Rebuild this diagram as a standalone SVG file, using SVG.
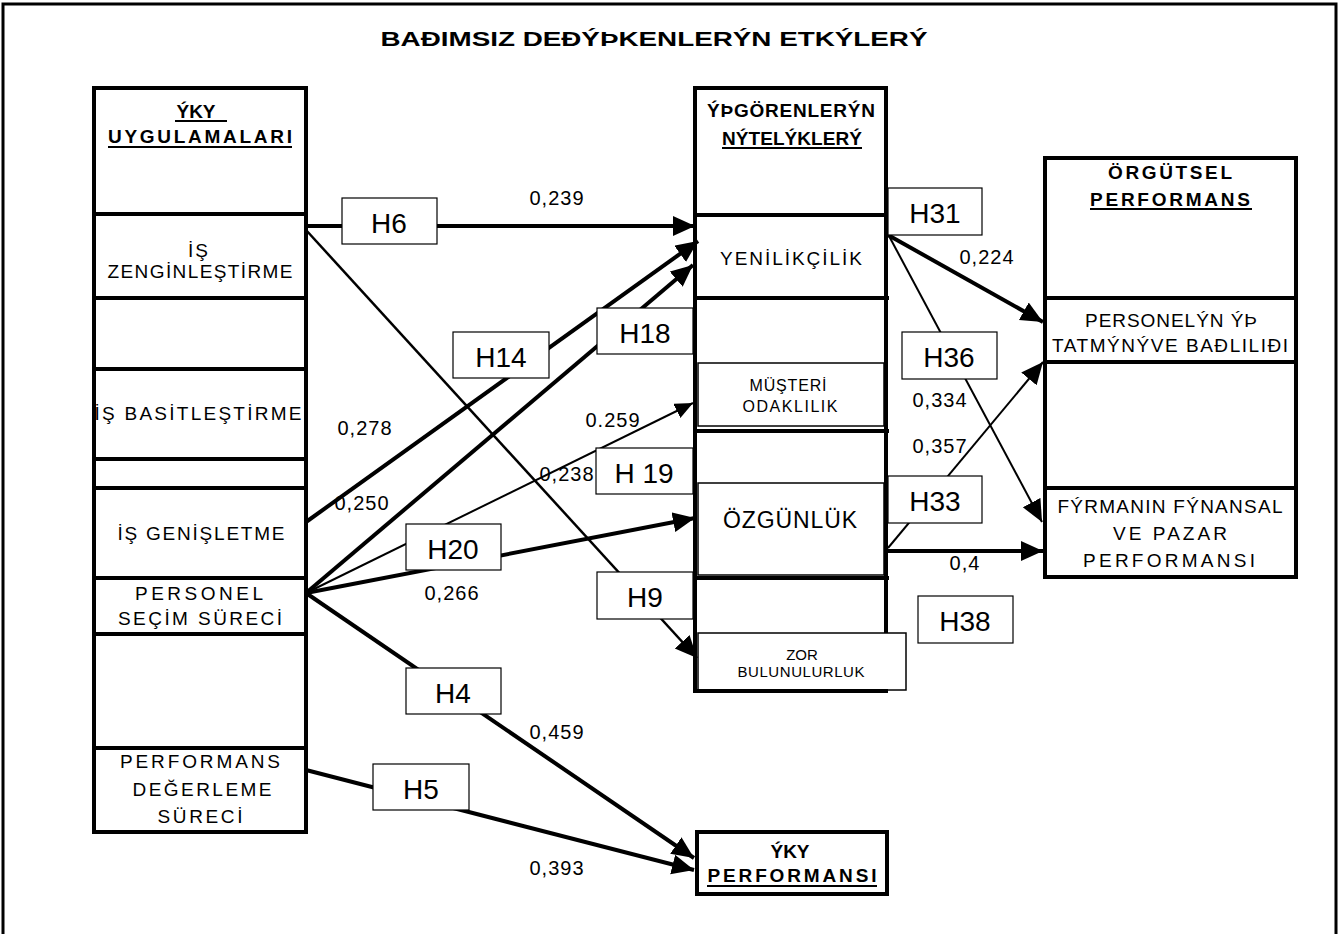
<svg xmlns="http://www.w3.org/2000/svg" width="1341" height="934" viewBox="0 0 1341 934">
<style>
text{font-family:"Liberation Sans",Arial,sans-serif;fill:#000}
.hd{font-size:19px;font-weight:bold;text-anchor:middle}
.lb{font-size:19px;text-anchor:middle}
.sm{font-size:16px;text-anchor:middle}
.num{font-size:20px;letter-spacing:1px;text-anchor:middle}
.hl{font-size:28px;text-anchor:middle}
.thick{fill:none;stroke:#000;stroke-width:4}
.thin{fill:#fff;stroke:#000;stroke-width:1.5}
.hbox{fill:#fff;stroke:#000;stroke-width:1.2}
.ul{stroke:#000;stroke-width:1.8}
.c4{stroke:#000;stroke-width:4;fill:none;marker-end:url(#ab)}
.c2{stroke:#000;stroke-width:2;fill:none;marker-end:url(#as)}
</style>
<defs>
<marker id="ab" markerUnits="userSpaceOnUse" markerWidth="24" markerHeight="22" refX="22" refY="10" orient="auto"><path d="M0,0 L22,10 L0,20 z" fill="#000"/></marker>
<marker id="as" markerUnits="userSpaceOnUse" markerWidth="20" markerHeight="18" refX="18" refY="8" orient="auto"><path d="M0,0 L18,8 L0,16 z" fill="#000"/></marker>
</defs>
<rect width="1341" height="934" fill="#fff"/>
<g id="frame"><path d="M3,934 V4 H1336 V934" fill="none" stroke="#000" stroke-width="3"/></g>
<g id="title"><text x="654" y="46" style="font-size:20px;font-weight:bold;text-anchor:middle" textLength="547" lengthAdjust="spacingAndGlyphs">BAĐIMSIZ DEĐÝÞKENLERÝN ETKÝLERÝ</text></g>

<g id="iky-uygulamalari">
<rect class="thick" x="94" y="88" width="212" height="744"/>
<path class="thick" d="M94,214 H306 M94,298 H306 M94,369 H306 M94,459 H306 M94,488 H306 M94,578 H306 M94,634 H306 M94,748 H306"/>
<text class="hd" x="196" y="118">ÝKY</text>
<line class="ul" x1="175" y1="121" x2="227" y2="121"/>
<text class="hd" x="200" y="143" textLength="184" lengthAdjust="spacing">UYGULAMALARI</text>
<line class="ul" x1="108" y1="147" x2="292" y2="147"/>
</g>
<g id="is-zenginlestirme"><text class="lb" x="199" y="257" style="letter-spacing:2px">İŞ</text><text class="lb" x="200" y="278" textLength="185" lengthAdjust="spacing">ZENGİNLEŞTİRME</text></g>
<g id="is-basitlestirme"><text class="lb" x="198" y="420" textLength="207" lengthAdjust="spacing">İŞ BASİTLEŞTİRME</text></g>
<g id="is-genisletme"><text class="lb" x="201" y="540" textLength="167" lengthAdjust="spacing">İŞ GENİŞLETME</text></g>
<g id="personel-secim"><text class="lb" x="199" y="600" textLength="128" lengthAdjust="spacing">PERSONEL</text><text class="lb" x="200" y="625" textLength="164" lengthAdjust="spacing">SEÇİM SÜRECİ</text></g>
<g id="performans-degerleme"><text class="lb" x="200" y="768" textLength="160" lengthAdjust="spacing">PERFORMANS</text><text class="lb" x="202" y="796" textLength="139" lengthAdjust="spacing">DEĞERLEME</text><text class="lb" x="200" y="823" textLength="85" lengthAdjust="spacing">SÜRECİ</text></g>

<g id="isgorenlerin-nitelikleri">
<path class="thick" d="M695,86 V693 M886,86 V634 M693,88 H888 M693,691 H888 M693,215 H889 M693,298 H889 M693,431 H889 M693,578 H889"/>
<text class="hd" x="791" y="117" textLength="168" lengthAdjust="spacing">ÝÞGÖRENLERÝN</text>
<text class="hd" x="792" y="145" textLength="140" lengthAdjust="spacing">NÝTELÝKLERÝ</text>
<line class="ul" x1="722" y1="148" x2="862" y2="148"/>
</g>
<g id="yenilikcilik"><text class="lb" x="791" y="265" textLength="142" lengthAdjust="spacing">YENİLİKÇİLİK</text></g>
<g id="musteri-odaklilik"><rect class="thin" x="698" y="363" width="186" height="63"/><text class="sm" x="788" y="391" textLength="77" lengthAdjust="spacing">MÜŞTERİ</text><text class="sm" x="790" y="412" textLength="95" lengthAdjust="spacing">ODAKLILIK</text></g>
<g id="ozgunluk"><rect class="thin" x="698" y="483" width="186" height="92"/><text x="790" y="528" style="font-size:23px;text-anchor:middle" textLength="134" lengthAdjust="spacing">ÖZGÜNLÜK</text></g>
<g id="zor-bulunulurluk"><rect x="698" y="633" width="208" height="57" fill="#fff" stroke="#000" stroke-width="1.5"/><path class="thick" d="M695,633 V693 M693,691 H888"/><text class="sm" x="802" y="660" style="font-size:15px">ZOR</text><text class="sm" x="801" y="677" style="font-size:15px" textLength="127" lengthAdjust="spacing">BULUNULURLUK</text></g>

<g id="orgutsel-performans">
<rect class="thick" x="1045" y="158" width="251" height="419"/>
<path class="thick" d="M1045,298 H1296 M1045,362 H1296 M1045,488 H1296"/>
<text class="hd" x="1170" y="179" textLength="124" lengthAdjust="spacing">ÖRGÜTSEL</text>
<text class="hd" x="1170" y="206" textLength="160" lengthAdjust="spacing">PERFORMANS</text>
<line class="ul" x1="1090" y1="209" x2="1252" y2="209"/>
</g>
<g id="personel-is-tatmini"><text class="lb" x="1171" y="327" textLength="172" lengthAdjust="spacing">PERSONELÝN ÝÞ</text><text class="lb" x="1170" y="352" textLength="236" lengthAdjust="spacing">TATMÝNÝVE BAĐLILIĐI</text></g>
<g id="firma-performansi"><text class="lb" x="1170" y="513" textLength="225" lengthAdjust="spacing">FÝRMANIN FÝNANSAL</text><text class="lb" x="1170" y="540" textLength="114" lengthAdjust="spacing">VE PAZAR</text><text class="lb" x="1169" y="567" textLength="172" lengthAdjust="spacing">PERFORMANSI</text></g>

<g id="iky-performansi">
<rect class="thick" x="697" y="832" width="190" height="62"/>
<text class="hd" x="790" y="858">ÝKY</text>
<text class="hd" x="792" y="882" textLength="169" lengthAdjust="spacing">PERFORMANSI</text>
<line class="ul" x1="707" y1="886" x2="877" y2="886"/>
</g>

<g id="connectors">
<line class="c4" x1="306" y1="226" x2="695" y2="226"/>
<line class="c4" x1="306" y1="230" x2="697" y2="658" style="stroke-width:2.5"/>
<line class="c4" x1="306" y1="522" x2="698" y2="241"/>
<line class="c4" x1="306" y1="593" x2="693" y2="265"/>
<line class="c2" x1="306" y1="593" x2="693" y2="403"/>
<line class="c4" x1="306" y1="593" x2="695" y2="518"/>
<line class="c4" x1="306" y1="593" x2="694" y2="858"/>
<line class="c4" x1="306" y1="770" x2="694" y2="870"/>
<line class="c4" x1="888" y1="235" x2="1043" y2="322"/>
<line class="c2" x1="889" y1="236" x2="1042" y2="522" style="marker-end:url(#ab)"/>
<line class="c2" x1="888" y1="548" x2="1043" y2="362" style="marker-end:url(#ab)"/>
<line class="c4" x1="888" y1="551" x2="1043" y2="551"/>

<rect class="hbox" x="342" y="198" width="95" height="46"/><text class="hl" x="389" y="233">H6</text>
<rect class="hbox" x="453" y="332" width="96" height="46"/><text class="hl" x="501" y="367">H14</text>
<rect class="hbox" x="597" y="308" width="96" height="46"/><text class="hl" x="645" y="343">H18</text>
<rect class="hbox" x="596" y="448" width="97" height="46"/><text class="hl" x="644" y="483">H 19</text>
<rect class="hbox" x="406" y="524" width="95" height="46"/><text class="hl" x="453" y="559">H20</text>
<rect class="hbox" x="597" y="572" width="96" height="47"/><text class="hl" x="645" y="607">H9</text>
<rect class="hbox" x="406" y="668" width="95" height="46"/><text class="hl" x="453" y="703">H4</text>
<rect class="hbox" x="373" y="764" width="96" height="46"/><text class="hl" x="421" y="799">H5</text>
<rect class="hbox" x="888" y="188" width="94" height="47"/><text class="hl" x="935" y="223">H31</text>
<rect class="hbox" x="902" y="332" width="95" height="47"/><text class="hl" x="949" y="367">H36</text>
<rect class="hbox" x="888" y="476" width="94" height="47"/><text class="hl" x="935" y="511">H33</text>
<rect class="hbox" x="918" y="596" width="95" height="47"/><text class="hl" x="965" y="631">H38</text>

<text class="num" x="557" y="205">0,239</text>
<text class="num" x="365" y="435">0,278</text>
<text class="num" x="362" y="510">0,250</text>
<text class="num" x="613" y="427">0.259</text>
<text class="num" x="567" y="481">0,238</text>
<text class="num" x="452" y="600">0,266</text>
<text class="num" x="557" y="739">0,459</text>
<text class="num" x="557" y="875">0,393</text>
<text class="num" x="987" y="264">0,224</text>
<text class="num" x="940" y="407">0,334</text>
<text class="num" x="940" y="453">0,357</text>
<text class="num" x="965" y="570">0,4</text>
</g>
</svg>
